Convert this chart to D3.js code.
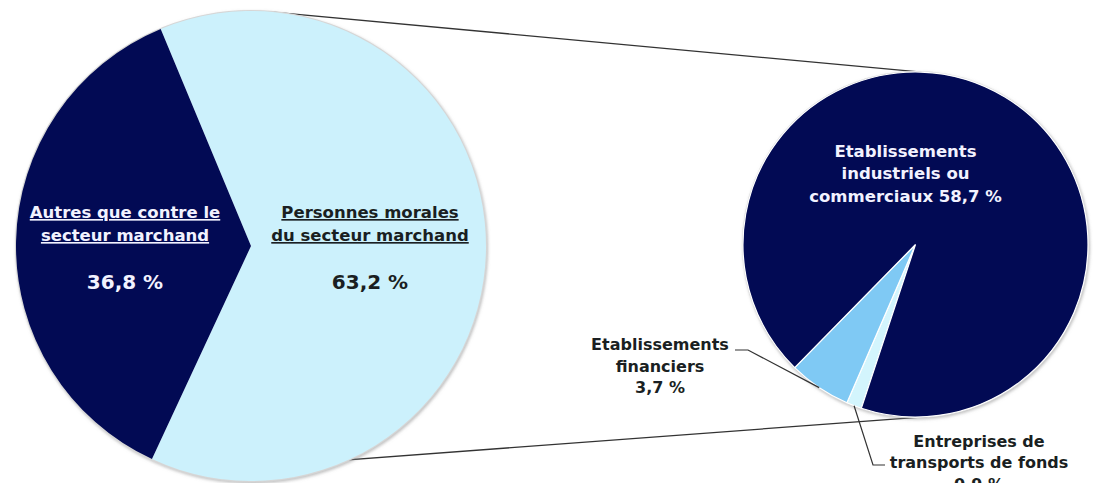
<!DOCTYPE html>
<html>
<head>
<meta charset="utf-8">
<script src="https://cdn.jsdelivr.net/npm/d3@7"></script>
<style>
  html, body { margin: 0; padding: 0; background: #fff; overflow: hidden; }
  svg text { font-family: "DejaVu Sans", Verdana, sans-serif; font-weight: bold; }
</style>
</head>
<body>
<div id="chart"></div>
<script>
// main pie : all cases
var mainCategories = ["Personnes morales du secteur marchand", "Autres que contre le secteur marchand"];
var mainValues = [63.2, 36.8];
var mainLabels = [["Personnes morales", "du secteur marchand"], ["Autres que contre le", "secteur marchand"]];
var mainPct = ["63,2 %", "36,8 %"];

// detail pie : split of the market sector
var detailCategories = ["Entreprises de transports de fonds", "Etablissements financiers", "Etablissements industriels ou commerciaux"];
var detailValues = [0.9, 3.7, 58.7];
var detailLabels = [["Entreprises de", "transports de fonds", "0,9 %"], ["Etablissements", "financiers", "3,7 %"], ["Etablissements", "industriels  ou", "commerciaux 58,7 %"]];

var width = 1093, height = 483,
    rad = Math.PI / 180,
    big = {cx: 251, cy: 246, r: 235, start: -22.6},
    small = {cx: 915.5, cy: 244.5, r: 172.5, start: 198.3},
    mainColors = ["#ccf1fc", "#020a54"],
    detailColors = ["#d3f5fd", "#7fc9f4", "#020a54"],
    darkText = "#1a1f22",
    lightText = "#f2f2ff";

function edge(p, deg, k) {
  var a = deg * rad, r = p.r * (k || 1);
  return [p.cx + r * Math.sin(a), p.cy - r * Math.cos(a)];
}

var svg = d3.select("#chart").append("svg")
  .attr("width", width)
  .attr("height", height);

var defs = svg.append("defs");
var f = defs.append("filter").attr("id", "shadow")
  .attr("x", "-10%").attr("y", "-10%").attr("width", "120%").attr("height", "120%");
f.append("feDropShadow")
  .attr("dx", 1).attr("dy", 1.5).attr("stdDeviation", 1.5)
  .attr("flood-color", "#888").attr("flood-opacity", 0.55);

// connector lines between the two pies
var line = d3.line();
svg.append("path")
  .attr("d", line([edge(big, 4), edge(small, 2)]))
  .attr("stroke", "#333").attr("stroke-width", 1.3).attr("fill", "none");
svg.append("path")
  .attr("d", line([edge(big, 196), edge(small, 176)]))
  .attr("stroke", "#333").attr("stroke-width", 1.3).attr("fill", "none");

function drawPie(p, values, colors, sep) {
  var pie = d3.pie().sort(null).value(function(d) { return d; })
    .startAngle(p.start * rad).endAngle(p.start * rad + 2 * Math.PI);
  var arc = d3.arc().innerRadius(0).outerRadius(p.r);
  var g = svg.append("g").attr("transform", "translate(" + p.cx + "," + p.cy + ")");
  g.append("circle").attr("r", p.r).attr("fill", "#fff")
    .attr("stroke", "#d6d6d6").attr("stroke-width", 2)
    .attr("filter", "url(#shadow)");
  var arcs = pie(values);
  g.selectAll("path")
    .data(arcs)
    .enter().append("path")
    .attr("d", arc)
    .attr("fill", function(d, i) { return colors[i]; })
    .attr("stroke", sep ? "#fff" : "none")
    .attr("stroke-width", sep ? 1.2 : 0);
  return arcs;
}

var mainArcs = drawPie(big, mainValues, mainColors, false);
var detailArcs = drawPie(small, detailValues, detailColors, true);

function multiLine(x, ys, lines, fill, sizes, underline) {
  var t = svg.append("g");
  lines.forEach(function(s, i) {
    t.append("text")
      .attr("x", x).attr("y", ys[i])
      .attr("text-anchor", "middle")
      .attr("fill", fill)
      .style("font-size", (sizes[i] || sizes[0]) + "px")
      .style("text-decoration", underline && underline[i] ? "underline" : "none")
      .text(s);
  });
}

// main pie labels
multiLine(big.cx + 119, [big.cy - 28, big.cy - 5, big.cy + 43],
  mainLabels[0].concat([mainPct[0]]), darkText, [16.5, 16.5, 20], [true, true, false]);
multiLine(big.cx - 126, [big.cy - 28, big.cy - 5, big.cy + 43],
  mainLabels[1].concat([mainPct[1]]), lightText, [16.5, 16.5, 20], [true, true, false]);

// detail pie labels
multiLine(small.cx - 10, [small.cy - 87.5, small.cy - 65.5, small.cy - 42.5],
  detailLabels[2], lightText, [16.5]);
multiLine(660, [350, 372, 393], detailLabels[1], darkText, [16]);
multiLine(979, [447, 468, 490], detailLabels[0], darkText, [16]);

// leader lines
function midDeg(a) { return (a.startAngle + a.endAngle) / 2 / rad; }
var finEdge = edge(small, midDeg(detailArcs[1]));
var trEdge = edge(small, midDeg(detailArcs[0]));
svg.append("path")
  .attr("d", line([[735, 350], [748, 350], finEdge]))
  .attr("stroke", "#333").attr("stroke-width", 1.2).attr("fill", "none");
svg.append("path")
  .attr("d", line([trEdge, [873, 465], [885, 465]]))
  .attr("stroke", "#333").attr("stroke-width", 1.2).attr("fill", "none");
</script>
</body>
</html>
